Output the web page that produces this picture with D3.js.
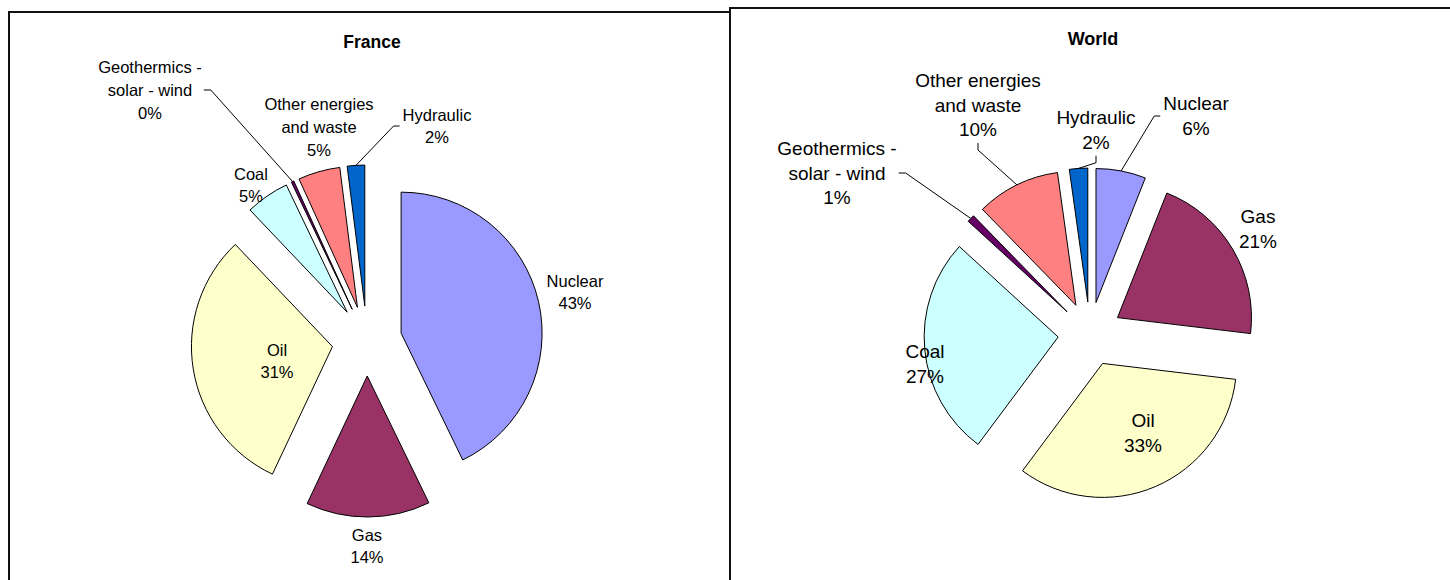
<!DOCTYPE html>
<html>
<head>
<meta charset="utf-8">
<script src="https://cdn.jsdelivr.net/npm/d3@7"></script>
<style>
  html, body { margin: 0; padding: 0; background: #fff; }
  svg { display: block; }
  text { font-family: Arial, "Liberation Sans", sans-serif; fill: #000; }
</style>
</head>
<body>
<svg id="chart" width="1450" height="580"></svg>
<script>
// ---------- data ----------
const categories = ["Nuclear", "Gas", "Oil", "Coal", "Geothermics - solar - wind", "Other energies and waste", "Hydraulic"];
const labelLines = [["Nuclear"], ["Gas"], ["Oil"], ["Coal"], ["Geothermics -", "solar - wind"], ["Other energies", "and waste"], ["Hydraulic"]];
const franceValues = [42.8, 14.2, 30.9, 5.0, 0.3, 4.8, 2.0];
const worldValues  = [6.0, 20.9, 33.3, 26.6, 0.9, 10.1, 2.2];
const titles = ["France", "World"];

// ---------- styles / layout ----------
const colors = ["#9999FF", "#993366", "#FFFFCC", "#CCFFFF", "#660066", "#FF8080", "#0066CC"];

const panels = [
  {
    title: titles[0], values: franceValues,
    frame: { x: 9, y: 12, w: 721 },
    titlePos: [372, 42], titleSize: 17.5,
    cx: 367, cy: 341, r: 141, explode: 35,
    font: 16.5, lh: 22.7,
    // label block centre offsets from pie centre
    labelOff: [[208, -49], [0, 205], [-90, 20], [-116, -156], [-217, -251], [-48, -214], [70, -215]],
    leader: [null, null, null, null, "right", null, "left"]
  },
  {
    title: titles[1], values: worldValues,
    frame: { x: 730, y: 8, w: 730 },
    titlePos: [1093, 39], titleSize: 18,
    cx: 1090, cy: 334, r: 134, explode: 32,
    font: 19, lh: 24.5,
    labelOff: [[106, -218], [168, -105], [53, 99], [-165, 30], [-253, -161], [-112, -229], [6, -204]],
    leader: ["left", null, null, null, "right", "bottom", "bottom"]
  }
];

const svg = d3.select("#chart");

// frames
panels.forEach(p => {
  svg.append("path")
    .attr("d", `M${p.frame.x},600 L${p.frame.x},${p.frame.y} L${p.frame.x + p.frame.w},${p.frame.y} L${p.frame.x + p.frame.w},600`)
    .attr("fill", "none").attr("stroke", "#111").attr("stroke-width", 2);
});

const pie = d3.pie().sort(null).value(d => d).startAngle(0).endAngle(2 * Math.PI);

panels.forEach(p => {
  const g = svg.append("g");
  const total = d3.sum(p.values);
  const arcs = pie(p.values);
  const arc = d3.arc().innerRadius(0).outerRadius(p.r);

  g.append("text")
    .attr("x", p.titlePos[0]).attr("y", p.titlePos[1])
    .attr("text-anchor", "middle").attr("dominant-baseline", "central")
    .style("font-weight", "bold").style("font-size", p.titleSize + "px")
    .text(p.title);

  const mid = a => (a.startAngle + a.endAngle) / 2;

  g.selectAll("path.slice").data(arcs).enter().append("path")
    .attr("class", "slice")
    .attr("transform", a => {
      const m = mid(a);
      return `translate(${p.cx + Math.sin(m) * p.explode},${p.cy - Math.cos(m) * p.explode})`;
    })
    .attr("d", arc)
    .attr("fill", (a, i) => colors[i])
    .attr("stroke", "#000").attr("stroke-width", 1).attr("stroke-linejoin", "miter");

  arcs.forEach((a, i) => {
    const lines = labelLines[i].concat([Math.round(a.value / total * 100) + "%"]);
    const bx = p.cx + p.labelOff[i][0], by = p.cy + p.labelOff[i][1];
    const t = g.append("text")
      .attr("text-anchor", "middle")
      .style("font-size", p.font + "px");
    lines.forEach((ln, k) => {
      t.append("tspan")
        .attr("x", bx)
        .attr("y", by + (k - (lines.length - 1) / 2) * p.lh)
        .attr("dominant-baseline", "central")
        .text(ln);
    });
    const side = p.leader[i];
    if (side) {
      const bb = t.node().getBBox();
      const m = mid(a);
      const tx = p.cx + Math.sin(m) * (p.r + p.explode);
      const ty = p.cy - Math.cos(m) * (p.r + p.explode);
      let pts;
      const ycen = bb.y + bb.height / 2;
      const xcen = bb.x + bb.width / 2;
      if (side === "right") {
        const x0 = bb.x + bb.width + 2;
        pts = [[x0, ycen], [x0 + 7, ycen], [tx, ty]];
      } else if (side === "left") {
        const x0 = bb.x - 3;
        pts = [[x0, ycen], [x0 - 6, ycen], [tx, ty]];
      } else {
        const y0 = bb.y + bb.height + 3;
        pts = [[xcen, y0], [xcen, y0 + 7], [tx, ty]];
      }
      g.append("path")
        .attr("d", d3.line()(pts))
        .attr("fill", "none").attr("stroke", "#000").attr("stroke-width", 1);
    }
  });
});
</script>
</body>
</html>
